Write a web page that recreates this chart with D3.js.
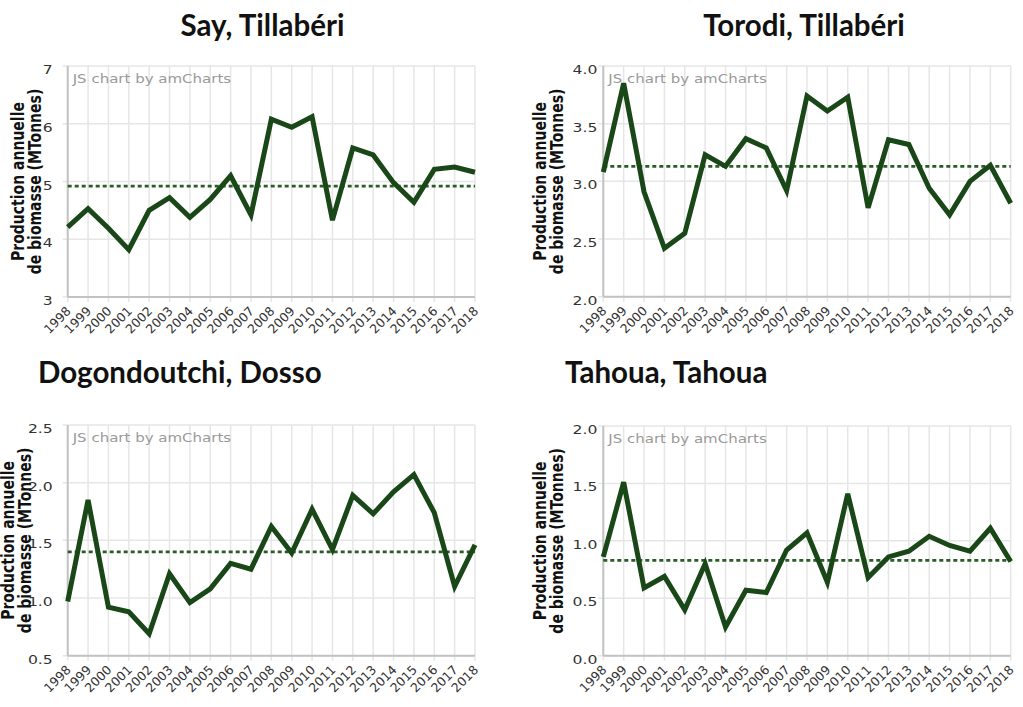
<!DOCTYPE html>
<html>
<head>
<meta charset="utf-8">
<script src="https://cdn.jsdelivr.net/npm/d3@7/dist/d3.min.js"></script>
<style>
  html, body { margin: 0; padding: 0; background: #ffffff; }
  svg { display: block; }
</style>
</head>
<body>
<svg id="chart" width="1023" height="707"></svg>
<script>
// ---------- data ----------
const years = ["1998","1999","2000","2001","2002","2003","2004","2005","2006","2007",
               "2008","2009","2010","2011","2012","2013","2014","2015","2016","2017","2018"];

const titles = ["Say, Tillabéri", "Torodi, Tillabéri", "Dogondoutchi, Dosso", "Tahoua, Tahoua"];

const sayValues = [4.21,4.53,4.19,3.82,4.50,4.72,4.38,4.69,5.10,4.42,6.08,5.94,6.12,4.33,5.58,5.46,4.98,4.64,5.21,5.25,5.16];
const torodiValues = [3.08,3.85,2.91,2.42,2.55,3.23,3.13,3.37,3.29,2.92,3.74,3.61,3.73,2.77,3.36,3.32,2.94,2.71,3.00,3.14,2.81];
const dogondoutchiValues = [0.97,1.85,0.92,0.88,0.69,1.21,0.96,1.08,1.30,1.25,1.62,1.39,1.77,1.42,1.89,1.73,1.92,2.07,1.74,1.10,1.46];
const tahouaValues = [0.86,1.51,0.59,0.69,0.40,0.80,0.25,0.57,0.55,0.92,1.07,0.64,1.41,0.68,0.86,0.91,1.04,0.96,0.91,1.11,0.82];

const meanValues = [4.92, 3.13, 1.40, 0.83];

const sayTicks = [3,4,5,6,7];
const torodiTicks = [2.0,2.5,3.0,3.5,4.0];
const dogondoutchiTicks = [0.5,1.0,1.5,2.0,2.5];
const tahouaTicks = [0.0,0.5,1.0,1.5,2.0];
const tickFormats = ["d", ".1f", ".1f", ".1f"];

const axisTitleLines = ["Production annuelle", "de biomasse (MTonnes)"];
const creditText = "JS chart by amCharts";

// ---------- layout ----------
const layout = [
  { left: 67.7,  right: 475,    top: 66,  bottom: 297,   labelGap: 15, titleX: 18,  headX: 262.5, headY: 36,  anchor: "middle" },
  { left: 603.3, right: 1010.7, top: 66,  bottom: 296.7, labelGap: 6,  titleX: 540, headX: 804,   headY: 36,  anchor: "middle" },
  { left: 67.7,  right: 475,    top: 425, bottom: 655.7, labelGap: 15, titleX: 7.5, headX: 38,    headY: 383, anchor: "start" },
  { left: 603.3, right: 1010.7, top: 426, bottom: 655.7, labelGap: 6,  titleX: 540, headX: 565,   headY: 383, anchor: "start" }
];

const seriesList = [sayValues, torodiValues, dogondoutchiValues, tahouaValues];
const tickList = [sayTicks, torodiTicks, dogondoutchiTicks, tahouaTicks];

const SX = 1.2;                // horizontal stretch of the chart texts
const LINE_COLOR = "#1a4718";
const MEAN_COLOR = "#2b5c28";
const GRID_COLOR = "#e6e6e6";
const AXIS_COLOR = "#c2c2c2";
const TEXT_COLOR = "#333333";
const FONT = "'DejaVu Sans', Verdana, sans-serif";

const svg = d3.select("#chart");

layout.forEach((p, i) => {
  const values = seriesList[i];
  const ticks = tickList[i];
  const x = d3.scalePoint().domain(years).range([p.left, p.right]);
  const y = d3.scaleLinear().domain([ticks[0], ticks[ticks.length - 1]]).range([p.bottom, p.top]);
  const fmt = d3.format(tickFormats[i]);
  const g = svg.append("g");

  // panel heading
  svg.append("text")
    .attr("x", p.headX).attr("y", p.headY)
    .attr("text-anchor", p.anchor)
    .attr("font-family", "Lato, sans-serif")
    .attr("font-weight", "bold")
    .attr("font-size", 29.5)
    .attr("fill", "#111")
    .text(titles[i]);

  // vertical grid lines (with small ticks below the axis)
  g.selectAll("line.vgrid").data(years).join("line")
    .attr("class", "vgrid")
    .attr("x1", d => x(d)).attr("x2", d => x(d))
    .attr("y1", p.top).attr("y2", p.bottom + 5)
    .attr("stroke", GRID_COLOR).attr("stroke-width", 1.5);

  // horizontal grid lines (with small ticks left of the axis)
  g.selectAll("line.hgrid").data(ticks).join("line")
    .attr("class", "hgrid")
    .attr("x1", p.left - 5).attr("x2", p.right)
    .attr("y1", d => y(d)).attr("y2", d => y(d))
    .attr("stroke", GRID_COLOR).attr("stroke-width", 1.5);

  // axis lines
  g.append("line")
    .attr("x1", p.left).attr("x2", p.left)
    .attr("y1", p.top).attr("y2", p.bottom)
    .attr("stroke", AXIS_COLOR).attr("stroke-width", 2);
  g.append("line")
    .attr("x1", p.left).attr("x2", p.right)
    .attr("y1", p.bottom).attr("y2", p.bottom)
    .attr("stroke", AXIS_COLOR).attr("stroke-width", 2);

  // y tick labels
  g.selectAll("text.ytick").data(ticks).join("text")
    .attr("class", "ytick")
    .attr("transform", d => `translate(${p.left - p.labelGap},${y(d) + 8}) scale(${SX},1)`)
    .attr("text-anchor", "end")
    .attr("font-family", FONT).attr("font-size", 13)
    .attr("fill", TEXT_COLOR)
    .text(d => fmt(d));

  // x tick labels (rotated)
  g.selectAll("text.xtick").data(years).join("text")
    .attr("class", "xtick")
    .attr("transform", d => `translate(${x(d) + 4},${p.bottom + 15}) rotate(-45)`)
    .attr("text-anchor", "end")
    .attr("font-family", FONT).attr("font-size", 12.5)
    .attr("fill", TEXT_COLOR)
    .text(d => d);

  // y axis title (two lines)
  const cy = (p.top + p.bottom) / 2;
  axisTitleLines.forEach((line, k) => {
    g.append("text")
      .attr("transform", `translate(${p.titleX + 6 + k * 17},${cy}) scale(${SX},1) rotate(-90)`)
      .attr("text-anchor", "middle")
      .attr("font-family", FONT).attr("font-weight", "bold").attr("font-size", 14)
      .attr("fill", "#111")
      .text(line);
  });

  // credit
  g.append("text")
    .attr("transform", `translate(${p.left + 5},${p.top + 16.5}) scale(${SX + 0.05},1)`)
    .attr("font-family", FONT).attr("font-size", 12)
    .attr("fill", "#9a9a9a")
    .text(creditText);

  // mean dashed line
  g.append("line")
    .attr("x1", p.left).attr("x2", p.right)
    .attr("y1", y(meanValues[i])).attr("y2", y(meanValues[i]))
    .attr("stroke", MEAN_COLOR).attr("stroke-width", 2.6)
    .attr("stroke-dasharray", "4,3");

  // series line
  const line = d3.line().x((d, j) => x(years[j])).y(d => y(d));
  g.append("path")
    .datum(values)
    .attr("d", line)
    .attr("fill", "none")
    .attr("stroke", LINE_COLOR)
    .attr("stroke-width", 5)
    .attr("stroke-linejoin", "miter");
});
</script>
</body>
</html>
